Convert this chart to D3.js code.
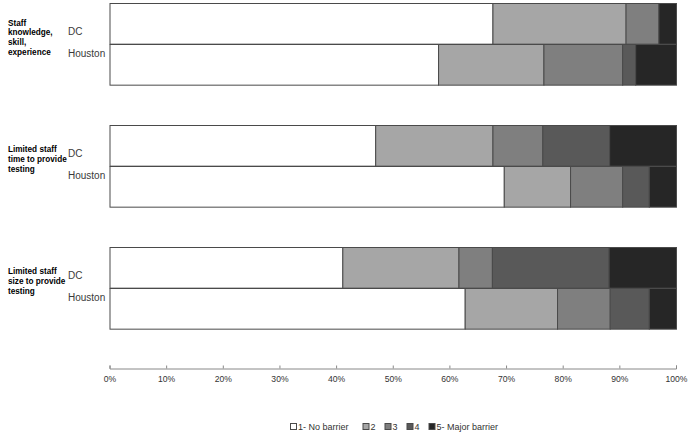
<!DOCTYPE html>
<html><head><meta charset="utf-8">
<script src="https://cdn.jsdelivr.net/npm/d3@7"></script>
<style>body{margin:0;background:#fff;} svg{display:block;font-family:"Liberation Sans",Arial,sans-serif;}</style>
</head><body>
<svg id="chart" width="689" height="436"></svg>
<script>
const groups = ["Staff knowledge, skill, experience", "Limited staff time to provide testing", "Limited staff size to provide testing"];
const groupLines = [["Staff","knowledge,","skill,","experience"],["Limited staff","time to provide","testing"],["Limited staff","size to provide","testing"]];
const sites = ["DC", "Houston"];
const seriesNames = ["1- No barrier", "2", "3", "4", "5- Major barrier"];
const colors = ["#ffffff", "#a6a6a6", "#7f7f7f", "#595959", "#262626"];
// values [group][series] in percent
const dcValues = [
  [67.6, 23.5, 5.8, 0, 3.1],
  [46.9, 20.7, 8.8, 11.8, 11.8],
  [41.1, 20.5, 5.9, 20.6, 11.9]
];
const houstonValues = [
  [58.0, 18.6, 13.9, 2.3, 7.2],
  [69.6, 11.7, 9.2, 4.7, 4.8],
  [62.7, 16.3, 9.3, 6.9, 4.8]
];
const tickValues = [0,10,20,30,40,50,60,70,80,90,100];

const svg = d3.select("#chart");
const x = d3.scaleLinear().domain([0,100]).range([109.5, 676]);
const y = d3.scaleBand().domain(groups).range([-17.3, 348.7]).paddingInner(1/3).paddingOuter(1/6);
const ySub = d3.scaleBand().domain(sites).range([0, y.bandwidth()]);

const rows = [];
groups.forEach((g, gi) => {
  sites.forEach((s, si) => {
    const vals = si === 0 ? dcValues[gi] : houstonValues[gi];
    let cum = 0;
    vals.forEach((v, k) => {
      rows.push({g, s, k, x0: cum, x1: cum + v});
      cum += v;
    });
  });
});

svg.append("g").selectAll("rect").data(rows.filter(d => d.x1 - d.x0 > 0)).join("rect")
  .attr("x", d => x(d.x0) + 0.5)
  .attr("y", d => Math.round(y(d.g) + ySub(d.s)) + 0.5)
  .attr("width", d => x(d.x1) - x(d.x0))
  .attr("height", ySub.bandwidth())
  .attr("fill", d => colors[d.k])
  .attr("stroke", "#4a4a4a")
  .attr("stroke-width", 1);

// site labels
groups.forEach((g, gi) => {
  const div = y(g) + ySub.bandwidth();
  svg.append("text").attr("x", 68).attr("y", div - 12.5).attr("dy", "0.35em")
    .attr("font-size", 10).attr("fill", "#3a3a3a").text(sites[0]);
  svg.append("text").attr("x", 68).attr("y", div + 9.5).attr("dy", "0.35em")
    .attr("font-size", 10).attr("fill", "#3a3a3a").text(sites[1]);
  const lines = groupLines[gi];
  const lh = 9.7;
  const mid = div - 6.5;
  const t = svg.append("text").attr("font-size", 8.2).attr("font-weight", "bold").attr("fill", "#000");
  lines.forEach((l, li) => {
    t.append("tspan").attr("x", 8).attr("y", mid + (li - (lines.length-1)/2) * lh).attr("dy", "0.35em").text(l);
  });
});

// x axis
const axis = d3.axisBottom(x).tickValues(tickValues).tickFormat(d => d + "%").tickSizeInner(-3).tickSizeOuter(-3).tickPadding(7);
const ag = svg.append("g").attr("transform", "translate(0,368.5)").call(axis);
ag.select(".domain").attr("stroke", "#888");
ag.selectAll(".tick line").attr("stroke", "#888");
ag.selectAll(".tick text").attr("font-size", 8.6).attr("fill", "#333").attr("font-family", "Liberation Sans, Arial, sans-serif");

// legend
const legendX = [290, 362.5, 384.5, 406.5, 428.5];
const lg = svg.append("g");
seriesNames.forEach((n, i) => {
  lg.append("rect").attr("x", legendX[i] + 0.5).attr("y", 423.5).attr("width", 6).attr("height", 6)
    .attr("fill", colors[i]).attr("stroke", "#4a4a4a").attr("stroke-width", 1);
  lg.append("text").attr("x", legendX[i] + 8).attr("y", 427).attr("dy", "0.35em")
    .attr("font-size", 9).attr("fill", "#333").text(n);
});
</script>
</body></html>
